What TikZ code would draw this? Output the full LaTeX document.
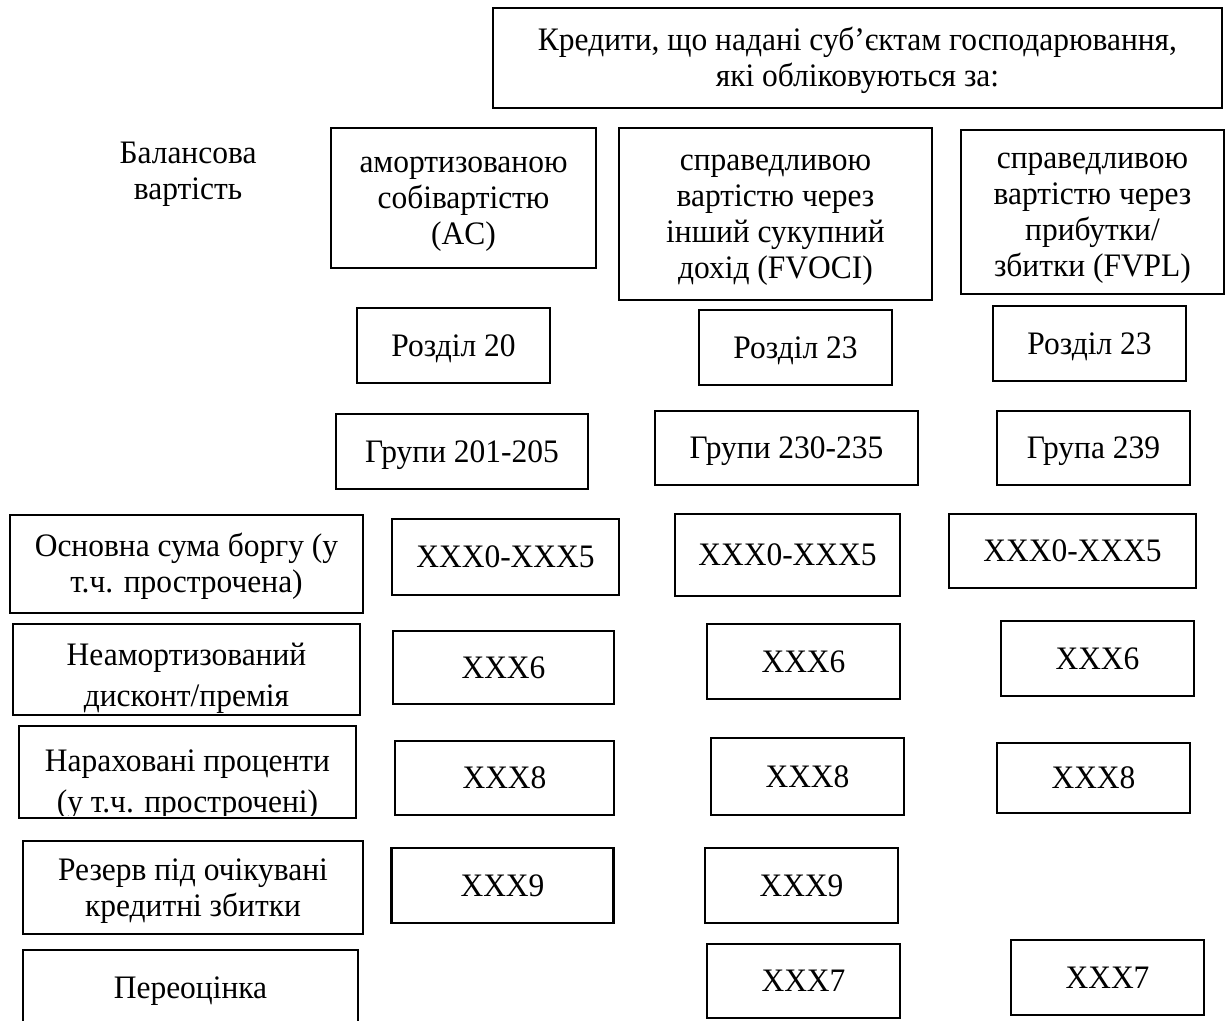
\documentclass[tikz,border=0pt]{standalone}
\usepackage{fontspec}
\setmainfont{Liberation Serif}[FakeStretch=0.96]

\begin{document}
\begin{tikzpicture}[x=0.45pt, y=-0.45pt,
    lbl/.style={align=center, inner sep=0pt,
                font=\fontsize{14.75pt}{16.2pt}\selectfont,
                text height=15pt, text depth=5.5pt},
    two/.style={text height=31.2pt},
    three/.style={text height=47.4pt},
    four/.style={text height=63.6pt},
    cell/.style={lbl, draw, line width=1.25pt},
    wh/.style 2 args={minimum width=#1*0.45pt, minimum height=#2*0.45pt}]
    % page frame, in pixels of the scan
    \useasboundingbox (0,0) rectangle (1229,1021);
    \clip (0,0) rectangle (1229,1021);

    % Heading
    \node[cell, two, wh={729}{100}] (loans) at (857.5,58)
        {Кредити, що надані суб’єктам господарювання,\\які обліковуються за:};
    \node[lbl, two] (carrying) at (188,170.5) {Балансова\\вартість};

    % Measurement categories
    \node[cell, three, wh={265}{140}] (ac) at (463.5,198) {амортизованою\\собівартістю\\(AC)};
    \node[cell, four, wh={313}{172}] (fvoci) at (775.5,214) {справедливою\\вартістю через\\інший сукупний\\дохід (FVOCI)};
    \node[cell, four, wh={263}{164}] (fvpl) at (1092.5,212) {справедливою\\вартістю через\\прибутки/\\збитки (FVPL)};

    % Sections
    \node[cell, wh={193}{75}] (secAC) at (453.5,345.5) {Розділ 20};
    \node[cell, wh={193}{75}] (secOCI) at (795.5,347.5) {Розділ 23};
    \node[cell, wh={193}{75}] (secPL) at (1089.5,343.5) {Розділ 23};

    % Groups
    \node[cell, wh={252}{75}] (grpAC) at (462,451.5) {Групи 201-205};
    \node[cell, wh={263}{74}] (grpOCI) at (786.5,448) {Групи 230-235};
    \node[cell, wh={193}{74}] (grpPL) at (1093.5,448) {Група 239};

    % Row: principal
    \node[cell, two, wh={353}{98}] (principal) at (186.5,564) {Основна сума боргу (у\\т.ч. прострочена)};
    \node[cell, wh={227}{76}] (prinAC) at (505.5,557) {XXX0-XXX5};
    \node[cell, wh={225}{82}] (prinOCI) at (787.5,555) {XXX0-XXX5};
    \node[cell, wh={247}{74}] (prinPL) at (1072.5,551) {XXX0-XXX5};

    % Row: discount / premium (second line cut by the frame)
    \node[cell, wh={347}{91}] (discount) at (186.5,669.5) {};
    \begin{scope}
      \clip (13,624) rectangle (360,712);
      \node[lbl, text height=33.45pt] (discountTxt) at (186.5,675) {Неамортизований\\[2.25pt]дисконт/премія};
    \end{scope}
    \node[cell, wh={221}{73}] (discAC) at (503.5,667.5) {XXX6};
    \node[cell, wh={193}{75}] (discOCI) at (803.5,661.5) {XXX6};
    \node[cell, wh={193}{75}] (discPL) at (1097.5,658.5) {XXX6};

    % Row: accrued interest (second line cut by the frame)
    \node[cell, wh={337}{92}] (interest) at (187.5,772) {};
    \begin{scope}
      \clip (19,726) rectangle (356,815);
      \node[lbl, text height=33.45pt] (interestTxt) at (187.5,781.5) {Нараховані проценти\\[2.25pt](у т.ч. прострочені)};
    \end{scope}
    \node[cell, wh={219}{74}] (intAC) at (504.5,778) {XXX8};
    \node[cell, wh={193}{77}] (intOCI) at (807.5,776.5) {XXX8};
    \node[cell, wh={193}{70}] (intPL) at (1093.5,778) {XXX8};

    % Row: loss allowance
    \node[cell, two, wh={340}{93}] (reserve) at (193,887.5) {Резерв під очікувані\\кредитні збитки};
    \node[cell, wh={222}{75}] (resAC) at (502.5,885.5) {XXX9};
    \node[cell, wh={193}{75}] (resOCI) at (801.5,885.5) {XXX9};

    % Row: revaluation (frame runs off the page)
    \node[cell, wh={335}{76}] (reval) at (190.5,988) {Переоцінка};
    \node[cell, wh={193}{74}] (revOCI) at (803.5,981) {XXX7};
    \node[cell, wh={193}{75}] (revPL) at (1107.5,977.5) {XXX7};
\end{tikzpicture}
\end{document}
